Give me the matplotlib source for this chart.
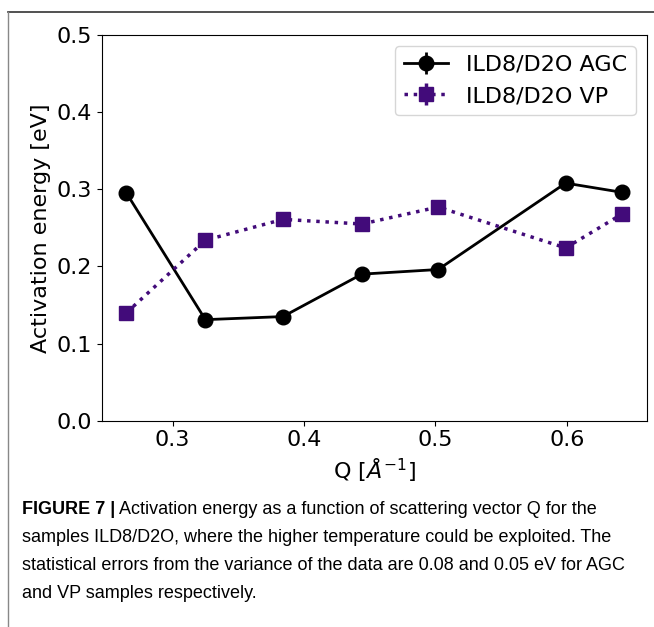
# Activation energy vs Q for ILD8/D2O samples
import numpy as np
import matplotlib
matplotlib.use('Agg')
import matplotlib.pyplot as plt
from matplotlib.lines import Line2D

# Q values [1/Angstrom]
q = [0.265, 0.325, 0.384, 0.444, 0.502, 0.599, 0.642]
# activation energies [eV]
ea_agc = [0.295, 0.131, 0.135, 0.190, 0.196, 0.308, 0.296]
ea_vp = [0.140, 0.234, 0.261, 0.255, 0.277, 0.224, 0.268]
err_zero = [0.0] * len(q)

caption_head = 'FIGURE 7 |'
caption_lines = [
    ' Activation energy as a function of scattering vector Q for the',
    'samples ILD8/D2O, where the higher temperature could be exploited. The',
    'statistical errors from the variance of the data are 0.08 and 0.05 eV for AGC',
    'and VP samples respectively.',
]

plt.rcParams['font.family'] = 'DejaVu Sans'
plt.rcParams['font.size'] = 16

fig = plt.figure(figsize=(6.54, 6.27), dpi=100)
ax = fig.add_axes([0.1555, 0.329, 0.8338, 0.6152])

ax.errorbar(q, ea_agc, yerr=err_zero, color='black', ls='-', lw=2,
            marker='o', ms=10.5, label='ILD8/D2O AGC')
ax.errorbar(q, ea_vp, yerr=err_zero, color='#420b7a', ls=':', lw=2.5,
            marker='s', ms=10.5, label='ILD8/D2O VP')

ax.set_ylim(0, 0.5)
ax.set_yticks([0.0, 0.1, 0.2, 0.3, 0.4, 0.5])
ax.set_xticks([0.3, 0.4, 0.5, 0.6])
ax.set_xlabel(r'Q [$\AA^{-1}$]')
ax.set_ylabel('Activation energy [eV]')
ax.legend(loc='upper right')

# caption under the plot
cap_font = ['Liberation Sans', 'DejaVu Sans']
cap_size = 13
x0 = 22 / 654
ys = [510, 538, 566, 594]
t = fig.text(x0, 1 - ys[0] / 627, caption_head, fontweight='bold',
             family=cap_font, fontsize=cap_size, va='center')
fig.canvas.draw()
bb = t.get_window_extent()
fig.text(bb.x1 / fig.bbox.width, 1 - ys[0] / 627, caption_lines[0],
         family=cap_font, fontsize=cap_size, va='center')
for y, line in zip(ys[1:], caption_lines[1:]):
    fig.text(x0, 1 - y / 627, line, family=cap_font, fontsize=cap_size, va='center')

# page frame lines
fig.add_artist(Line2D([8 / 654, 1], [1 - 12 / 627, 1 - 12 / 627],
                      transform=fig.transFigure, color='#333333', lw=1.2))
fig.add_artist(Line2D([8 / 654, 8 / 654], [1 - 12 / 627, 0],
                      transform=fig.transFigure, color='#888888', lw=1))

fig.savefig('out.png', dpi=100)
